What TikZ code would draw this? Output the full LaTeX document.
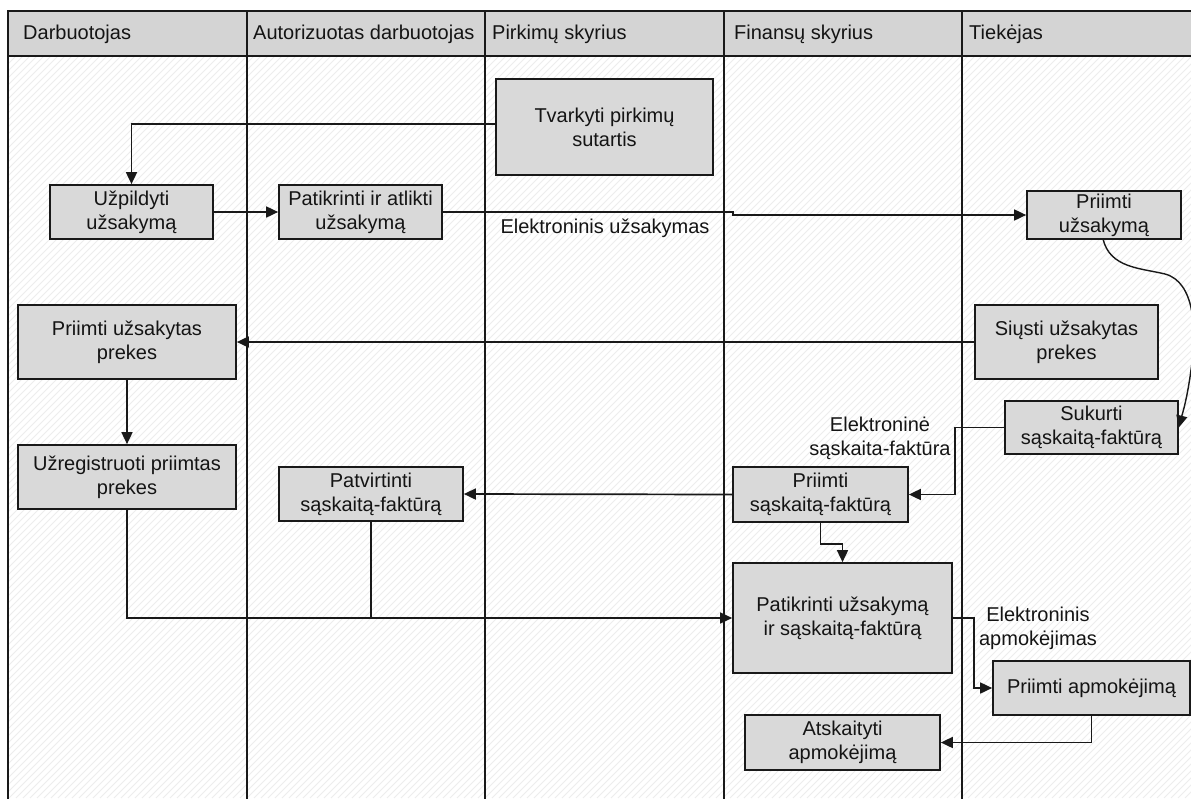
\documentclass[tikz,border=0pt]{standalone}
\usepackage{fontspec}
\setmainfont{Liberation Sans}
\usetikzlibrary{arrows.meta}
\begin{document}
\begin{tikzpicture}[x=1pt,y=-1pt,
  ink/.style={draw=black!90, line width=1.7pt},
  proc/.style={ink, fill=black!15, align=center, inner sep=0pt,
    font=\fontsize{20}{24}\selectfont, text=black!92},
  flow/.style={draw=black!90, line width=1.7pt, -{Triangle[length=12pt,width=11pt]}},
  link/.style={draw=black!90, line width=1.7pt},
  note/.style={align=center, inner sep=0pt, font=\fontsize{20}{24}\selectfont, text=black!92},
  lane/.style={anchor=west, inner sep=0pt, font=\fontsize{20}{24}\selectfont, text=black!92}]
\useasboundingbox (0,0) rectangle (1191,798);
\fill[white] (0,0) rectangle (1191,798);

% faint diagonal hatching of the swimlane area
\begin{scope}
  \clip (8,56) rectangle (1191,798);
  \foreach \i in {-740,-733,...,1191}
    \draw[black!7, line width=0.8pt] (\i,798) -- ++(742,-742);
\end{scope}

% header band and lane separators
\draw[ink, fill=black!17] (8,11) rectangle (1200,56);
\foreach \x in {8,247,485,724,962}
  \draw[ink] (\x,11) -- (\x,800);

\node[lane] (h1) at (23,34) {Darbuotojas};
\node[lane] (h2) at (253,34) {Autorizuotas darbuotojas};
\node[lane] (h3) at (492,34) {Pirkimų skyrius};
\node[lane] (h4) at (734,34) {Finansų skyrius};
\node[lane] (h5) at (969,34) {Tiekėjas};

% process boxes
\node[proc, minimum width=217pt, minimum height=96pt] (tvark) at (604.5,127) {Tvarkyti pirkimų\\sutartis};
\node[proc, minimum width=163pt, minimum height=54pt] (uzp) at (131.5,212) {Užpildyti\\užsakymą};
\node[proc, minimum width=163pt, minimum height=54pt] (patik) at (360.5,212) {Patikrinti ir atlikti\\užsakymą};
\node[proc, minimum width=154pt, minimum height=48pt] (pruzs) at (1104,215) {Priimti\\užsakymą};
\node[proc, minimum width=183pt, minimum height=74pt] (siusti) at (1066.5,342) {Siųsti užsakytas\\prekes};
\node[proc, minimum width=218pt, minimum height=74pt] (prprek) at (127,342) {Priimti užsakytas\\prekes};
\node[proc, minimum width=218pt, minimum height=64pt] (uzreg) at (127,477) {Užregistruoti priimtas\\prekes};
\node[proc, minimum width=173pt, minimum height=53pt] (sukurti) at (1091.5,427.5) {Sukurti\\sąskaitą-faktūrą};
\node[proc, minimum width=184pt, minimum height=54pt] (patvirt) at (371,494) {Patvirtinti\\sąskaitą-faktūrą};
\node[proc, minimum width=175pt, minimum height=55pt] (prsask) at (820.5,494.5) {Priimti\\sąskaitą-faktūrą};
\node[proc, minimum width=219pt, minimum height=110pt] (patikus) at (842.5,618) {Patikrinti užsakymą\\ir sąskaitą-faktūrą};
\node[proc, minimum width=197pt, minimum height=54pt] (prapm) at (1091.5,688) {Priimti apmokėjimą};
\node[proc, minimum width=195pt, minimum height=55pt] (atsk) at (842.5,742.5) {Atskaityti\\apmokėjimą};

% connector labels
\node[note] (l1) at (605,228) {Elektroninis užsakymas};
\node[note] (l2) at (880,438) {Elektroninė\\sąskaita-faktūra};
\node[note] (l3) at (1038,628) {Elektroninis\\apmokėjimas};

% connectors
\draw[flow] ([yshift=3pt]tvark.west) -| (uzp.north);
\draw[flow] (uzp.east) -- (patik.west);
\draw[flow] (patik.east) -- (733,212) -- (733,215) -- (pruzs.west);
\draw[flow, line width=1.4pt] (1103,239)
  .. controls (1110,268) and (1140,268) .. (1165,274)
  .. controls (1195,282) and (1197,330) .. (1191,370)
  .. controls (1187,400) and (1182,415) .. (sukurti.east);
\draw[flow] (siusti.west) -- (prprek.east);
\draw[flow] (prprek.south) -- (uzreg.north);
\draw[flow] (uzreg.south) |- (patikus.west);
\draw[link] (patvirt.south) -- (patvirt.south |- patikus.west);
\draw[flow] (prsask.west) -- (patvirt.east);
\draw[flow] (sukurti.west) -- ++(-49,0) |- (prsask.east);
\draw[flow] (prsask.south) -- ++(0,21) -| (patikus.north);
\draw[flow] (patikus.east) -- ++(21,0) |- (prapm.west);
\draw[flow] (prapm.south) |- (atsk.east);
\end{tikzpicture}
\end{document}
